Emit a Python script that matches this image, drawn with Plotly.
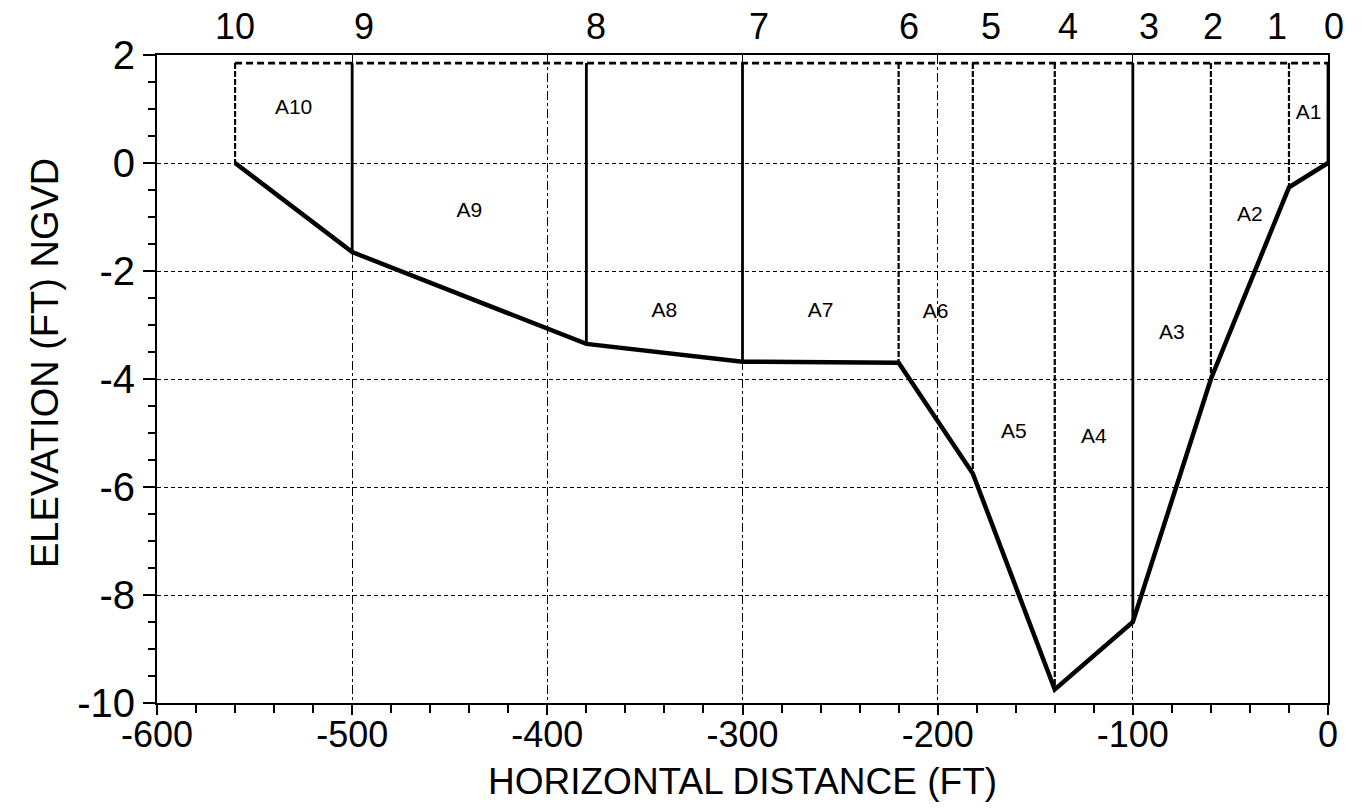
import plotly.graph_objects as go

# Cross-section survey: stations numbered from the right bank (0) to the left bank (10)
station_ids = ["10", "9", "8", "7", "6", "5", "4", "3", "2", "1", "0"]
station_x = [-560, -500, -380, -300, -220, -182, -140, -100, -60, -20, 0]
bed_elev = [0.0, -1.65, -3.35, -3.68, -3.7, -5.75, -9.75, -8.5, -4.0, -0.45, 0.0]
water_elev = 1.85

# Sub-area labels between consecutive stations (A10 ... A1) and their elevations
area_names = ["A10", "A9", "A8", "A7", "A6", "A5", "A4", "A3", "A2", "A1"]
area_label_elev = [1.0, -0.9, -2.76, -2.76, -2.77, -5.0, -5.08, -3.17, -0.98, 0.92]

x_ticks = [-600, -500, -400, -300, -200, -100, 0]
y_ticks = [2, 0, -2, -4, -6, -8, -10]

FONT = "Liberation Sans, Arial, Helvetica, sans-serif"
solid_stations = {"9", "8", "7", "3", "0"}
label_nudge = {"10": 0, "9": 12, "8": 10, "7": 16, "6": 10, "5": 18,
               "4": 13, "3": 16, "2": 2, "1": -12, "0": 6}

fig = go.Figure()

# vertical lines from the water surface down to the bed at each station
for sid, sx, sz in zip(station_ids, station_x, bed_elev):
    fig.add_trace(go.Scatter(
        x=[sx, sx], y=[water_elev, sz], mode="lines",
        line=dict(color="black", width=2.8 if sid in solid_stations else 2.2,
                  dash="solid" if sid in solid_stations else "6px,2px"),
        hoverinfo="skip", showlegend=False))

# water surface
fig.add_trace(go.Scatter(
    x=[station_x[0], station_x[-1]], y=[water_elev, water_elev], mode="lines",
    line=dict(color="black", width=2.8, dash="7px,4px"),
    hoverinfo="skip", showlegend=False))

# channel bed profile
fig.add_trace(go.Scatter(
    x=station_x, y=bed_elev, mode="lines",
    line=dict(color="black", width=4.5),
    hoverinfo="skip", showlegend=False))

# area labels centred between neighbouring stations
mid_x = [(a + b) / 2 for a, b in zip(station_x[:-1], station_x[1:])]
fig.add_trace(go.Scatter(
    x=mid_x, y=area_label_elev, mode="text", text=area_names,
    textfont=dict(family=FONT, size=21, color="black"),
    hoverinfo="skip", showlegend=False))

# station numbers above the frame
for sid, sx in zip(station_ids, station_x):
    fig.add_annotation(
        x=sx, y=1, xref="x", yref="paper", text=sid, showarrow=False,
        xanchor="center", yanchor="middle", yshift=29, xshift=label_nudge[sid],
        font=dict(family=FONT, size=36, color="black"))

fig.add_annotation(
    x=0.5, y=0, xref="paper", yref="paper", text="HORIZONTAL DISTANCE (FT)",
    showarrow=False, xanchor="center", yanchor="middle", yshift=-78,
    font=dict(family=FONT, size=37, color="black"))
fig.add_annotation(
    x=0, y=0.5, xref="paper", yref="paper", text="ELEVATION (FT) NGVD",
    showarrow=False, xanchor="center", yanchor="middle", textangle=-90,
    xshift=-112, yshift=16,
    font=dict(family=FONT, size=38, color="black"))

fig.update_xaxes(
    range=[-600, 0], tickvals=x_ticks, ticktext=[str(v) for v in x_ticks],
    showline=True, linecolor="black", linewidth=2, mirror=True,
    ticks="outside", ticklen=10, tickwidth=2, tickcolor="black",
    ticklabelstandoff=-11,
    minor=dict(dtick=20, ticks="outside", ticklen=8, tickcolor="black", showgrid=False),
    showgrid=True, gridcolor="black", gridwidth=1, griddash="dashdot",
    zeroline=False, tickfont=dict(family=FONT, size=36, color="black"))
fig.update_yaxes(
    range=[-10, 2], tickvals=y_ticks, ticktext=[str(v) for v in y_ticks],
    showline=True, linecolor="black", linewidth=2, mirror=True,
    ticks="outside", ticklen=12, tickwidth=2, tickcolor="black",
    minor=dict(dtick=0.5, ticks="outside", ticklen=7, tickcolor="black", showgrid=False),
    showgrid=True, gridcolor="black", gridwidth=1.2, griddash="4px,3px",
    zeroline=False, tickfont=dict(family=FONT, size=40, color="black"))

fig.update_layout(
    width=1364, height=808,
    margin=dict(l=157, r=36, t=55, b=105),
    paper_bgcolor="white", plot_bgcolor="white",
    showlegend=False)

fig.write_html("out.html")
